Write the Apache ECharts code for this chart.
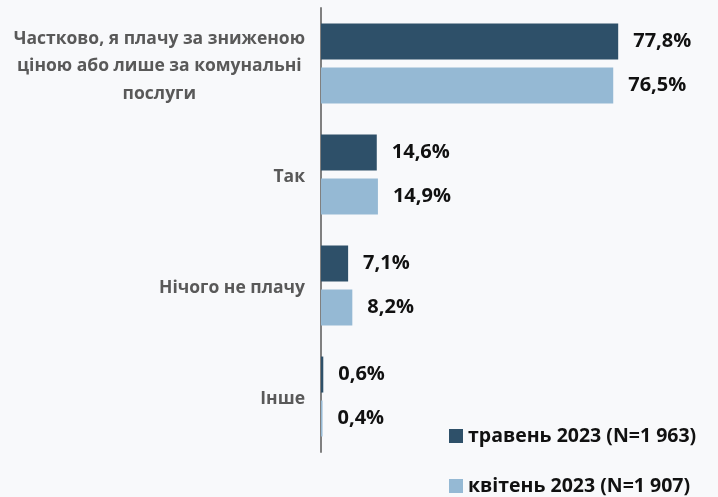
<!DOCTYPE html>
<html><head><meta charset="utf-8">
<script src="https://cdn.jsdelivr.net/npm/echarts@6/dist/echarts.min.js"></script>
<style>html,body{margin:0;padding:0;background:#f8f9fb;}#c{width:718px;height:497px;}</style>
</head><body><div id="c"></div>
<script>
const categories = ['Частково, я плачу за зниженою\nціною або лише за комунальні\nпослуги', 'Так', 'Нічого не плачу', 'Інше'];
const seriesNames = ['травень 2023 (N=1 963)', 'квітень 2023 (N=1 907)'];
const may2023 = [77.8, 14.6, 7.1, 0.6];
const apr2023 = [76.5, 14.9, 8.2, 0.4];
const colors = ['#2e5069', '#95b9d4'];

const chart = echarts.init(document.getElementById('c'));
const fmt = p => p.value.toFixed(1).replace('.', ',') + '%';
const labelCfg = {show: true, position: 'right', distance: 15, formatter: fmt, padding: [3, 0, 0, 0],
  fontFamily: 'Open Sans', fontWeight: 'bold', fontSize: 20, color: '#111'};
const legendText = {fontFamily: 'Open Sans', fontWeight: 'bold', fontSize: 19.5, color: '#111'};
chart.setOption({
  backgroundColor: '#f8f9fb',
  animation: false,
  grid: {left: 321, top: 8, width: 382, height: 444, containLabel: false},
  xAxis: {type: 'value', min: 0, max: 100, show: false},
  yAxis: {type: 'category', data: categories, inverse: true,
    axisLine: {show: true, lineStyle: {color: '#808080', width: 2}},
    axisTick: {show: false},
    axisLabel: {margin: 16, align: 'right', padding: [6, 0, 0, 0],
      formatter: v => v.split('\n').map(l => '{c|' + l + '}').join('\n'),
      rich: {c: {align: 'center', fontFamily: 'Open Sans', fontWeight: 'bold', fontSize: 17.5,
        color: '#595959', lineHeight: 27.5}}}},
  legend: [
    {orient: 'vertical', left: 449, top: 426, padding: 0, itemWidth: 14, itemHeight: 14, itemGap: 5,
      icon: 'rect', data: [seriesNames[0]], textStyle: legendText},
    {orient: 'vertical', left: 449, top: 476, padding: 0, itemWidth: 14, itemHeight: 14, itemGap: 5,
      icon: 'rect', data: [seriesNames[1]], textStyle: legendText}
  ],
  series: [
    {name: seriesNames[0], type: 'bar', data: may2023, itemStyle: {color: colors[0]},
      barWidth: 36, barGap: '22%', label: labelCfg},
    {name: seriesNames[1], type: 'bar', data: apr2023, itemStyle: {color: colors[1]},
      barWidth: 36, barGap: '22%', label: labelCfg}
  ]
});
</script></body></html>
